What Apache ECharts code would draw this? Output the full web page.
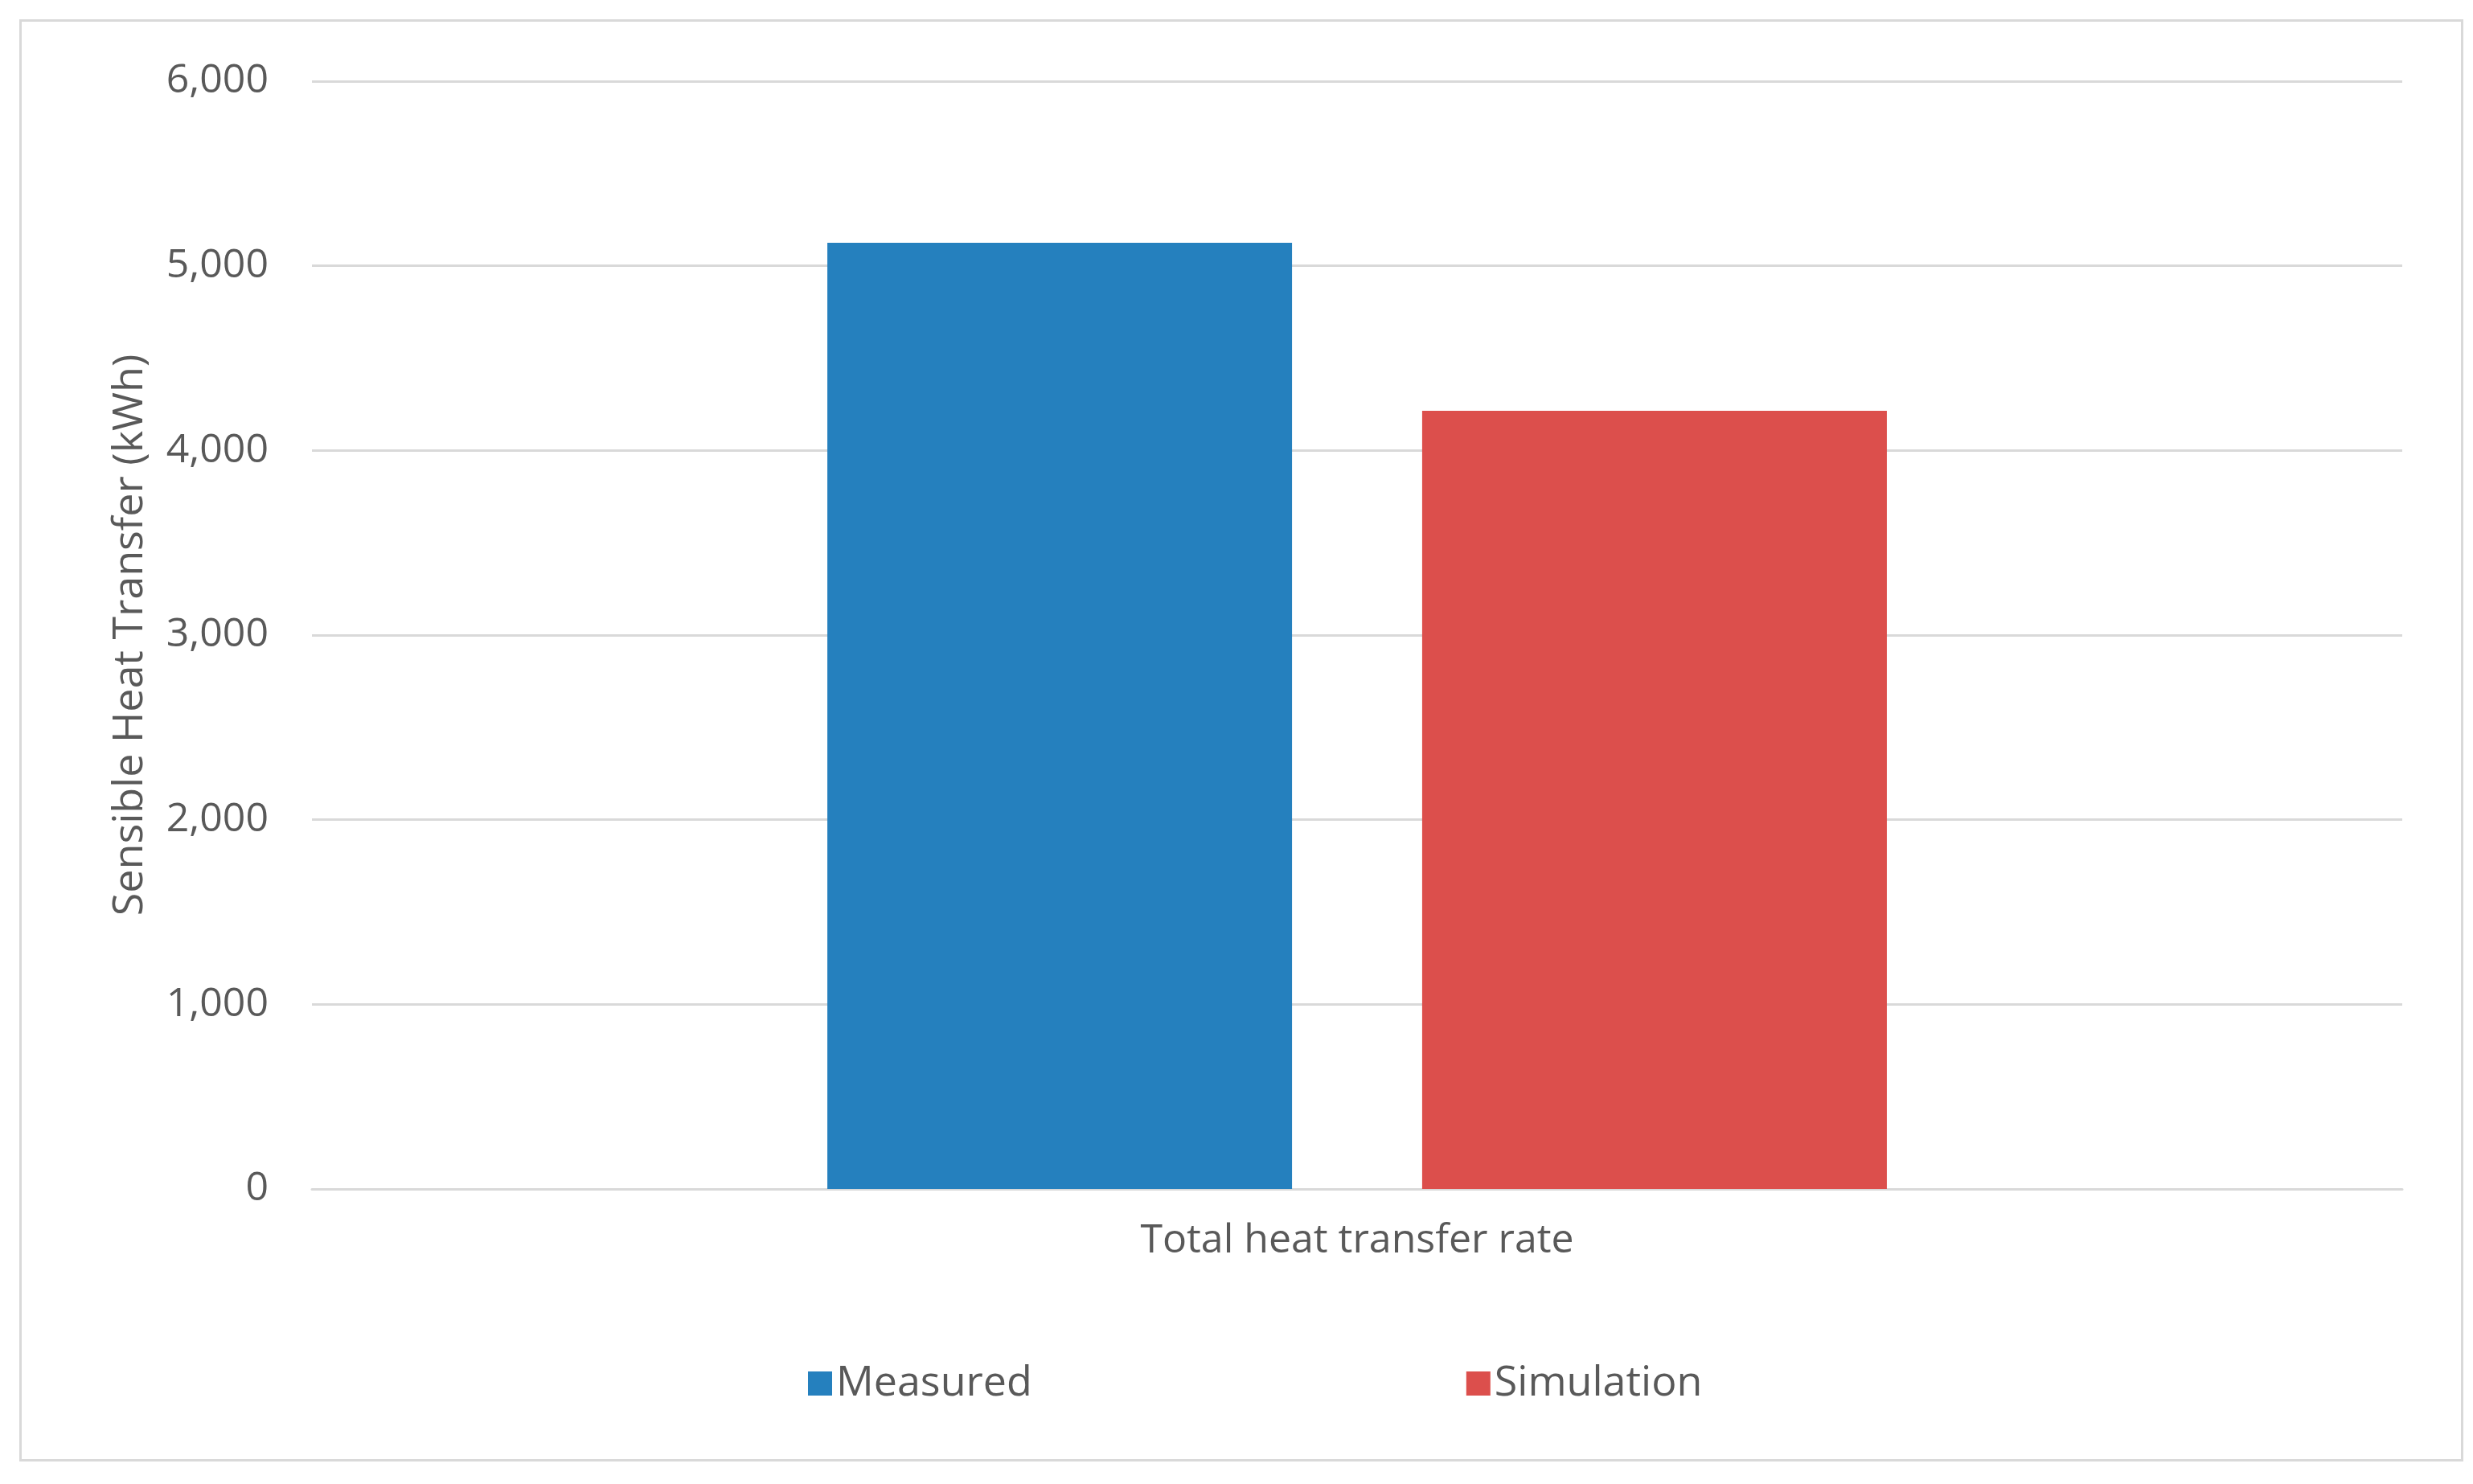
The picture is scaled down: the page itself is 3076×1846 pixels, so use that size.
<!DOCTYPE html>
<html>
<head>
<meta charset="utf-8">
<script src="https://cdn.jsdelivr.net/npm/echarts@6/dist/echarts.min.js"></script>
<style>
  html, body { margin: 0; padding: 0; background: #fff; }
  #frame { position: absolute; left: 24px; top: 24px; width: 3034px; height: 1788px; border: 3px solid #d9d9d9; }
  #chart { width: 3076px; height: 1846px; }
</style>
</head>
<body>
<div id="frame"></div>
<div id="chart"></div>
<script>
// data
var categories = ['Total heat transfer rate'];
var seriesNames = ['Measured', 'Simulation'];
var measured = [5125];
var simulation = [4215];
var colors = ['#2580BE', '#DC4F4C'];

var chart = echarts.init(document.getElementById('chart'));
var font = 'Open Sans';
chart.setOption({
    backgroundColor: 'transparent',
    animation: false,
    grid: { left: 388, right: 88, top: 101, bottom: 367 },
    legend: {
        data: seriesNames,
        left: 1000,
        top: 1690,
        itemWidth: 30,
        itemHeight: 30,
        itemGap: 540,
        icon: 'rect',
        textStyle: { fontFamily: font, fontSize: 52, color: '#595959' }
    },
    xAxis: {
        type: 'category',
        data: categories,
        axisLine: { lineStyle: { color: '#d9d9d9', width: 3 } },
        axisTick: { show: false },
        axisLabel: { fontFamily: font, fontSize: 50, color: '#595959', margin: 40 }
    },
    yAxis: {
        type: 'value',
        min: 0,
        max: 6000,
        interval: 1000,
        name: 'Sensible Heat Transfer (kWh)',
        nameLocation: 'middle',
        nameGap: 200,
        nameTextStyle: { fontFamily: font, fontSize: 52, color: '#595959' },
        axisLine: { show: false },
        axisTick: { show: false },
        splitLine: { lineStyle: { color: '#d9d9d9', width: 3 } },
        axisLabel: { fontFamily: font, fontSize: 50, color: '#595959', margin: 54 }
    },
    series: [
        { name: seriesNames[0], type: 'bar', data: measured, barWidth: 578, barGap: '28%', itemStyle: { color: colors[0] } },
        { name: seriesNames[1], type: 'bar', data: simulation, barWidth: 578, barGap: '28%', itemStyle: { color: colors[1] } }
    ]
});
</script>
</body>
</html>
